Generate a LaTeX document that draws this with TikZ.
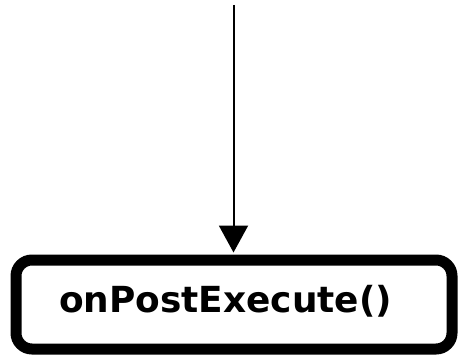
\documentclass[tikz,border=0pt]{standalone}
\usepackage{fontspec}
\newfontfamily\boxfont{DejaVu Sans}
\usetikzlibrary{arrows.meta,positioning}

\tikzset{
  procbox/.style={draw, line width=11pt, rounded corners=16pt,
    minimum width=436pt, minimum height=89pt, inner sep=0pt},
  proclabel/.style={font=\boxfont\bfseries\fontsize{35.9pt}{40pt}\selectfont, inner sep=0pt},
  flow/.style={line width=2pt, -{Triangle[width=29pt,length=27pt]}}
}

\begin{document}
\begin{tikzpicture}[x=1pt, y=-1pt]
  \useasboundingbox (0,0) rectangle (462,361);

  % Box and its label
  \node[procbox] (post) at (234,304.5) {};
  \node[proclabel, anchor=base] (postlbl) at (225.5,312) {onPostExecute()};

  % Incoming arrow
  \coordinate (intop) at (233.5,5);
  \draw[flow, shorten >=2pt] (intop) -- (intop |- post.north);
\end{tikzpicture}
\end{document}
